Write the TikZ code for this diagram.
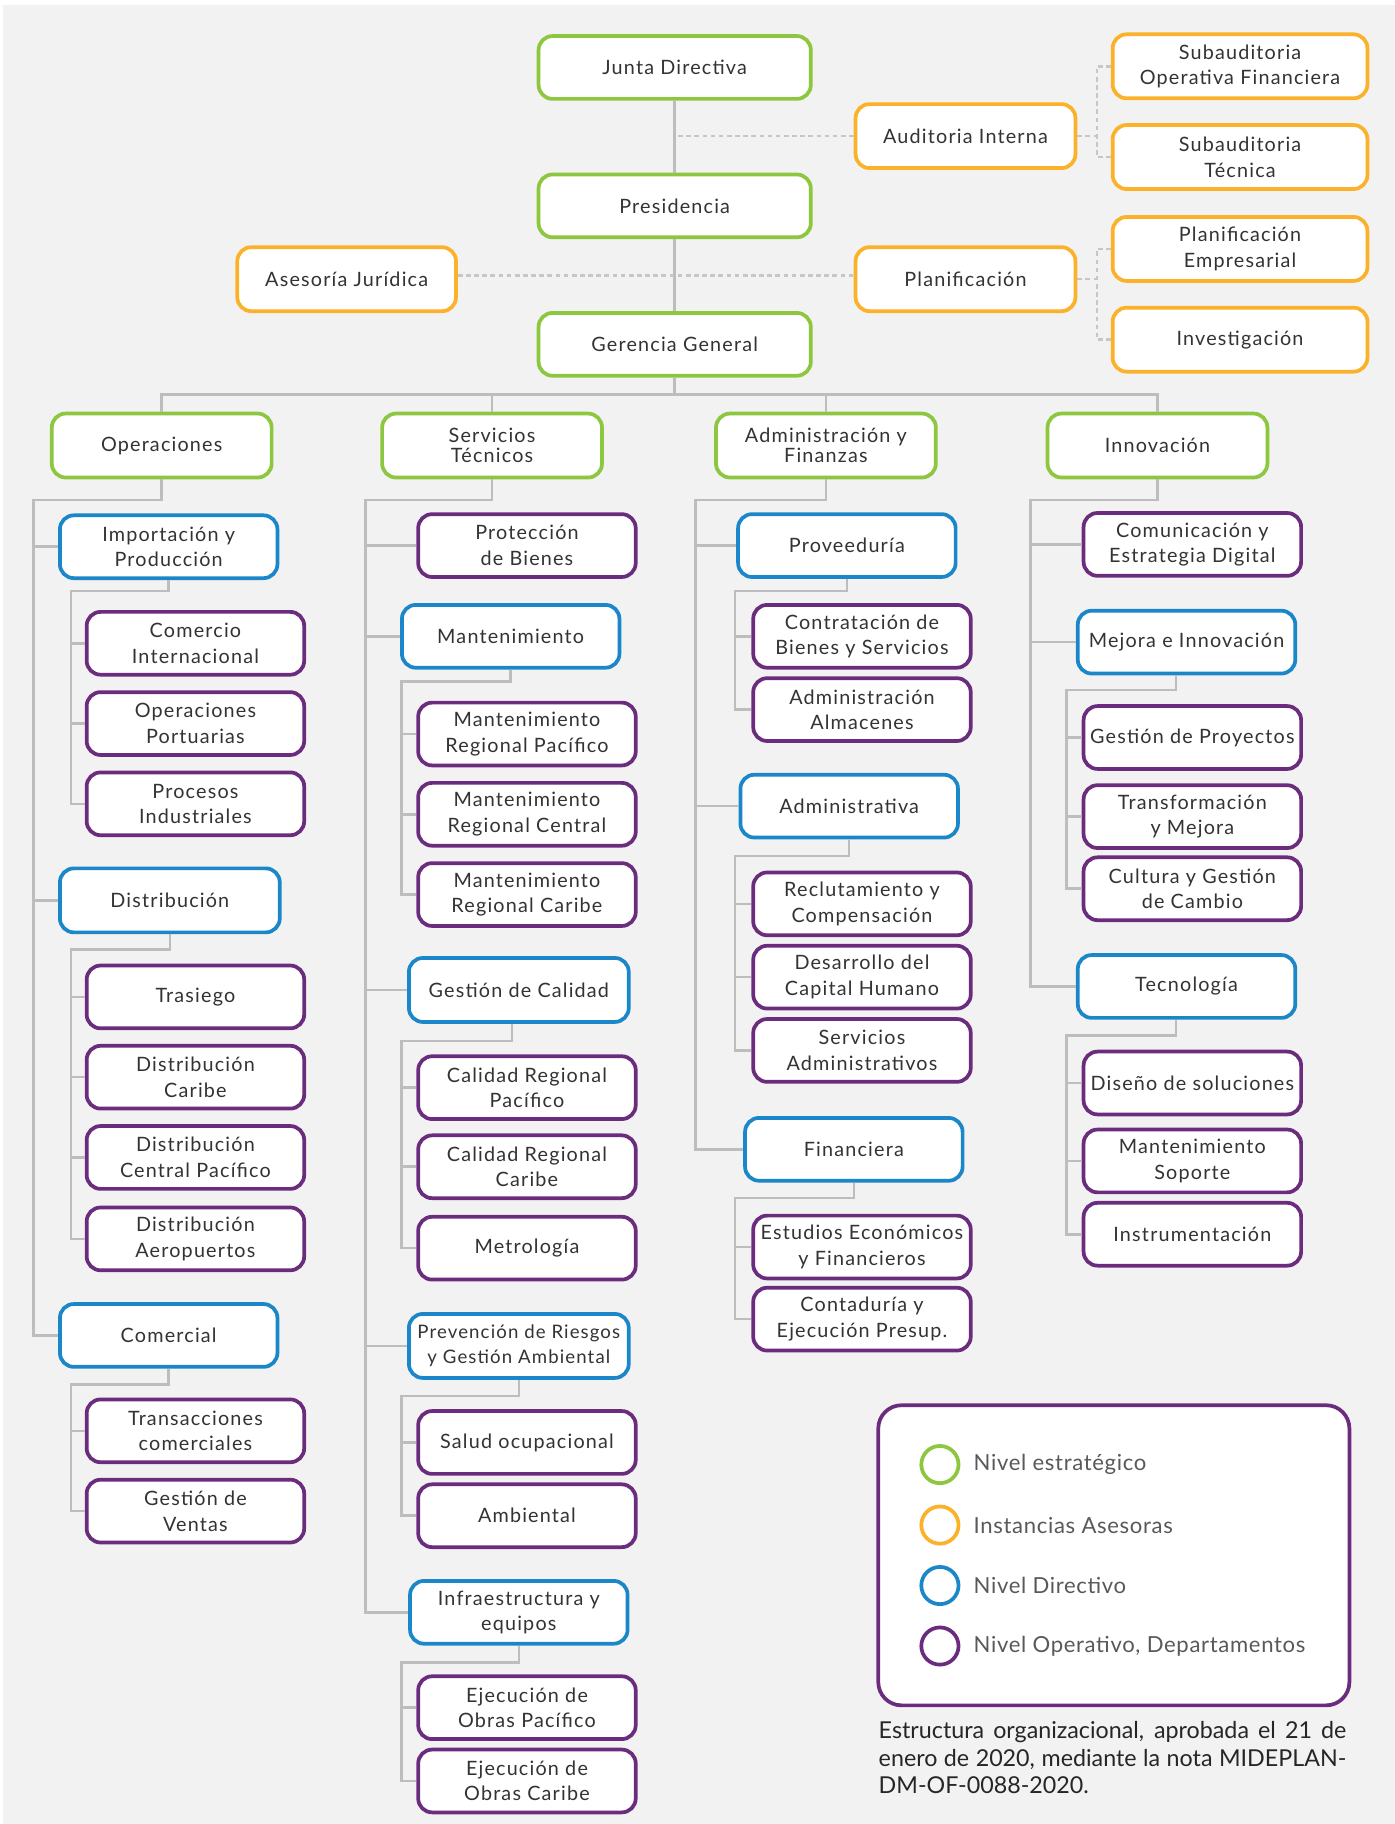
\documentclass[tikz,border=0pt]{standalone}
\usepackage{fontspec}
\setmainfont{Lato}
\newfontfamily\boxfamily{Lato}[LetterSpace=6.0]
\newfontfamily\keyfamily{Lato}[LetterSpace=3.0]
\usepackage{tikz}
\usetikzlibrary{positioning, calc}

\definecolor{bggray}{HTML}{F2F2F2}
\definecolor{cgreen}{HTML}{8DC63F}
\definecolor{corange}{HTML}{FBB22A}
\definecolor{cblue}{HTML}{1B87C9}
\definecolor{cpurple}{HTML}{6B2C7E}
\definecolor{linegray}{HTML}{BDBDBD}
\definecolor{dashgray}{HTML}{C6C6C6}
\definecolor{txtgray}{HTML}{333333}

\newcommand{\boxfont}{\boxfamily\fontsize{8.5}{11}\selectfont}
\newcommand{\tightfont}{\boxfamily\fontsize{8.5}{8.5}\selectfont}

\begin{document}
\begin{tikzpicture}[x=0.5pt, y=-0.5pt,
    orgbox/.style={draw, rounded corners=6pt, fill=white, line width=1.6pt,
      minimum width=93.5pt, minimum height=27pt, inner sep=1pt,
      align=center, font=\boxfont, text=txtgray},
    estrategico/.style={orgbox, draw=cgreen},
    asesora/.style={orgbox, draw=corange},
    directivo/.style={orgbox, draw=cblue},
    operativo/.style={orgbox, draw=cpurple},
    wide/.style={minimum width=117pt},
    mid/.style={minimum width=94.5pt, minimum height=27.5pt},
    subbox/.style={minimum width=109.5pt, minimum height=27.5pt},
    tight/.style={font=\tightfont},
    link/.style={draw=linegray, line width=1.1pt},
    dashline/.style={draw=dashgray, line width=1.1pt, dash pattern=on 2pt off 1.5pt},
    keyring/.style={circle, draw, line width=1.6pt, minimum size=16pt, inner sep=0pt},
    keytext/.style={inner sep=0pt, font=\keyfamily\fontsize{9.5}{11}\selectfont, text=black!65},
  ]
\fill[white] (0,0) rectangle (1199,1568);
\fill[bggray] (3,4) rectangle (1199,1568);
\useasboundingbox (0,0) rectangle (1199,1568);

% cabeza
\node[estrategico, wide] (junta) at (580,58) {Junta Directiva};
\node[estrategico, wide] (presid) at (580,177) {Presidencia};
\node[estrategico, wide] (gerencia) at (580,296) {Gerencia General};
\node[asesora, mid] (auditoria) at (830,117) {Auditoria Interna};
\node[asesora, subbox] (subop) at (1066,57) {Subauditoria\\Operativa Financiera};
\node[asesora, subbox] (subtec) at (1066,135) {Subauditoria\\Técnica};
\node[asesora, mid, minimum width=94pt] (asesoria) at (298,240) {Asesoría Jurídica};
\node[asesora, mid] (planif) at (830,240) {Planificación};
\node[asesora, subbox] (planemp) at (1066,214) {Planificación\\Empresarial};
\node[asesora, subbox] (investig) at (1066,292) {Investigación};

\coordinate (brx) at (943,0);
\coordinate (bus) at (0,339);

\draw[link] (junta) -- (presid);
\draw[link] (presid) -- (gerencia);
\draw[link] (gerencia.south) -- (gerencia.south |- bus);
\draw[dashline] (auditoria.west) -- (auditoria.west -| junta.south);
\draw[dashline] (asesoria.east |- 0,237) -- (planif.west |- 0,237);
\draw[dashline] (auditoria.east) -- (auditoria.east -| brx);
\draw[dashline] (subop.west) -- (subop.west -| brx) -- (subtec.west -| brx) -- (subtec.west);
\draw[dashline] (planif.east) -- (planif.east -| brx);
\draw[dashline] (planemp.west) -- (planemp.west -| brx) -- (investig.west -| brx) -- (investig.west);

% gerencias de area
\node[estrategico, mid] (oper) at (139,383) {\raisebox{-1.5pt}{Operaciones}};
\node[estrategico, mid, tight] (serv) at (423,383) {Servicios\\Técnicos};
\node[estrategico, mid, tight] (admfin) at (710,383) {Administración y\\Finanzas};
\node[estrategico, mid] (innov) at (995,383) {\raisebox{-1.5pt}{Innovación}};

\draw[link] (oper.north) |- (innov.north |- bus) -- (innov.north);
\draw[link] (serv.north) -- (serv.north |- bus);
\draw[link] (admfin.north) -- (admfin.north |- bus);

% Operaciones
\node[directivo] (impor) at (145,470) {Importación y\\Producción};
\node[operativo] (comint) at (168,553) {Comercio\\Internacional};
\node[operativo] (portu) at (168,622) {Operaciones\\Portuarias};
\node[operativo] (procind) at (168,691) {Procesos\\Industriales};
\node[directivo, mid] (distr) at (146,774) {Distribución};
\node[operativo] (trasiego) at (168,857) {Trasiego};
\node[operativo] (dcaribe) at (168,926) {Distribución\\Caribe};
\node[operativo] (dcentral) at (168,995) {Distribución\\Central Pacífico};
\node[operativo] (daero) at (168,1065) {Distribución\\Aeropuertos};
\node[directivo] (comercial) at (145,1148) {Comercial};
\node[operativo] (transac) at (168,1230) {Transacciones\\comerciales};
\node[operativo] (ventas) at (168,1299) {Gestión de\\Ventas};

\coordinate (opspine) at (29,430);
\coordinate (impspine) at (61,508);
\coordinate (distspine) at (61,816);
\coordinate (comspine) at (61,1190);
\draw[link] (oper.south) |- (opspine) |- (comercial.west);
\foreach \n in {impor, distr}
  \draw[link] (\n.west) -- (\n.west -| opspine);
\draw[link] (impor.south) |- (impspine) |- (procind.west);
\draw[link] (comint.west) -- (comint.west -| impspine);
\draw[link] (portu.west) -- (portu.west -| impspine);
\draw[link] (distr.south) |- (distspine) |- (daero.west);
\foreach \n in {trasiego, dcaribe, dcentral}
  \draw[link] (\n.west) -- (\n.west -| distspine);
\draw[link] (comercial.south) |- (comspine) |- (ventas.west);
\draw[link] (transac.west) -- (transac.west -| comspine);

% Servicios Tecnicos
\node[operativo] (protec) at (453,469) {Protección\\de Bienes};
\node[directivo] (mant) at (439,547) {Mantenimiento};
\node[operativo] (mpac) at (453,631) {Mantenimiento\\Regional Pacífico};
\node[operativo] (mcen) at (453,700) {Mantenimiento\\Regional Central};
\node[operativo] (mcar) at (453,769) {Mantenimiento\\Regional Caribe};
\node[directivo, mid] (calidad) at (446,851) {Gestión de Calidad};
\node[operativo] (cpac) at (453,935) {Calidad Regional\\Pacífico};
\node[operativo] (ccar) at (453,1003) {Calidad Regional\\Caribe};
\node[operativo] (metro) at (453,1073) {Metrología};
\node[directivo, mid, font=\boxfamily\fontsize{8}{10.5}\selectfont] (prev) at (446,1157) {Prevención de Riesgos\\y Gestión Ambiental};
\node[operativo] (salud) at (453,1240) {Salud ocupacional};
\node[operativo] (amb) at (453,1303) {Ambiental};
\node[directivo] (infra) at (446,1386) {Infraestructura y\\equipos};
\node[operativo] (epac) at (453,1468) {Ejecución de\\Obras Pacífico};
\node[operativo] (ecar) at (453,1531) {Ejecución de\\Obras Caribe};

\coordinate (stspine) at (314,430);
\coordinate (mantspine) at (345,586);
\coordinate (calspine) at (345,895);
\coordinate (prevspine) at (345,1200);
\coordinate (infraspine) at (345,1429);
\draw[link] (serv.south) |- (stspine) |- (infra.west);
\foreach \n in {protec, mant, calidad, prev}
  \draw[link] (\n.west) -- (\n.west -| stspine);
\draw[link] (mant.south) |- (mantspine) |- (mcar.west);
\foreach \n in {mpac, mcen}
  \draw[link] (\n.west) -- (\n.west -| mantspine);
\draw[link] ([xshift=-3pt]calidad.south) |- (calspine) |- (metro.west);
\foreach \n in {cpac, ccar}
  \draw[link] (\n.west) -- (\n.west -| calspine);
\draw[link] (prev.south) |- (prevspine) |- (amb.west);
\draw[link] (salud.west) -- (salud.west -| prevspine);
\draw[link] (infra.south) |- (infraspine) |- (ecar.west);
\draw[link] (epac.west) -- (epac.west -| infraspine);

% Administracion y Finanzas
\node[directivo] (prov) at (728,469) {Proveeduría};
\node[operativo] (contrat) at (741,547) {Contratación de\\Bienes y Servicios};
\node[operativo] (almac) at (741,610) {Administración\\Almacenes};
\node[directivo] (admva) at (730,693) {Administrativa};
\node[operativo] (reclut) at (741,777) {Reclutamiento y\\Compensación};
\node[operativo] (desarr) at (741,840) {Desarrollo del\\Capital Humano};
\node[operativo] (servadm) at (741,903) {Servicios\\Administrativos};
\node[directivo] (financ) at (734,988) {Financiera};
\node[operativo] (estud) at (741,1072) {Estudios Económicos\\y Financieros};
\node[operativo] (contad) at (741,1134) {Contaduría y\\Ejecución Presup.};

\coordinate (afspine) at (598,430);
\coordinate (provspine) at (632,508);
\coordinate (admspine) at (632,736);
\coordinate (finspine) at (632,1030);
\draw[link] (admfin.south) |- (afspine) |- (financ.west);
\foreach \n in {prov, admva}
  \draw[link] (\n.west) -- (\n.west -| afspine);
\draw[link] (prov.south) |- (provspine) |- (almac.west);
\draw[link] (contrat.west) -- (contrat.west -| provspine);
\draw[link] (admva.south) |- (admspine) |- (servadm.west);
\foreach \n in {reclut, desarr}
  \draw[link] (\n.west) -- (\n.west -| admspine);
\draw[link] (financ.south) |- (finspine) |- (contad.west);
\draw[link] (estud.west) -- (estud.west -| finspine);

% Innovacion
\node[operativo] (comunic) at (1025,468) {Comunicación y\\Estrategia Digital};
\node[directivo] (mejora) at (1020,552) {Mejora e Innovación};
\node[operativo] (gproy) at (1025,634) {Gestión de Proyectos};
\node[operativo] (transf) at (1025,702) {Transformación\\y Mejora};
\node[operativo] (cultura) at (1025,764) {Cultura y Gestión\\de Cambio};
\node[directivo] (tecno) at (1020,848) {Tecnología};
\node[operativo] (diseno) at (1025,931) {Diseño de soluciones};
\node[operativo] (msop) at (1025,998) {Mantenimiento\\Soporte};
\node[operativo] (instrum) at (1025,1061) {Instrumentación};

\coordinate (inspine) at (886,430);
\coordinate (mejspine) at (917,593);
\coordinate (tecspine) at (917,890);
\draw[link] (innov.south) |- (inspine) |- (tecno.west);
\foreach \n in {comunic, mejora}
  \draw[link] (\n.west) -- (\n.west -| inspine);
\draw[link] ([xshift=-4.5pt]mejora.south) |- (mejspine) |- (cultura.west);
\foreach \n in {gproy, transf}
  \draw[link] (\n.west) -- (\n.west -| mejspine);
\draw[link] ([xshift=-4.5pt]tecno.south) |- (tecspine) |- (instrum.west);
\foreach \n in {diseno, msop}
  \draw[link] (\n.west) -- (\n.west -| tecspine);

% leyenda
\node[draw=cpurple, fill=white, line width=1.6pt, rounded corners=10pt,
  minimum width=202.5pt, minimum height=129pt] (leyenda) at (957.5,1337) {};
\node[keyring, draw=cgreen] (k1) at (808,1259) {};
\node[keyring, draw=corange] (k2) at (808,1311) {};
\node[keyring, draw=cblue] (k3) at (808,1363) {};
\node[keyring, draw=cpurple] (k4) at (808,1415) {};
\node[keytext, right=5.5pt of k1] (t1) {Nivel estratégico};
\node[keytext, right=5.5pt of k2] (t2) {Instancias Asesoras};
\node[keytext, right=5.5pt of k3] (t3) {Nivel Directivo};
\node[keytext, right=5.5pt of k4] (t4) {Nivel Operativo, Departamentos};

\node[anchor=north west, inner sep=0pt, text width=201pt, align=justify,
  font=\fontsize{10}{12}\selectfont, text=black!85] (nota) at (755,1479)
  {Estructura organizacional, aprobada el 21 de\linebreak enero de 2020, mediante la nota MIDEPLAN-\linebreak DM-OF-0088-2020.};
\end{tikzpicture}
\end{document}
